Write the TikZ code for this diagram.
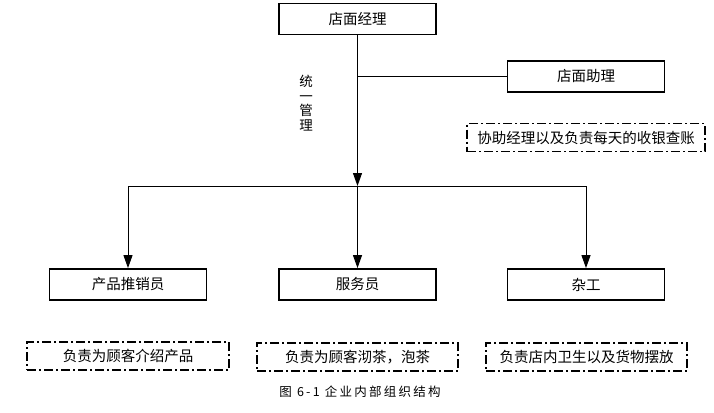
\documentclass[tikz,border=0pt]{standalone}
\usepackage{fontspec}
\setmainfont{Noto Sans CJK SC}
\usetikzlibrary{arrows.meta}
\tikzset{
  solidbox/.style={draw=black, line width=1.8pt, minimum width=157pt, minimum height=31pt, inner sep=0pt, font=\fontsize{14.5}{16}\selectfont},
  notebox/.style={draw=black, line width=1.1pt, dash pattern=on 9pt off 3pt on 2pt off 3pt, minimum height=28pt, inner sep=0pt, font=\fontsize{14.5}{16}\selectfont},
  link/.style={draw=black, line width=1pt},
  arr/.style={link, -{Triangle[length=13pt,width=9pt]}}
}
\begin{document}
\begin{tikzpicture}[x=1pt,y=-1pt]
\useasboundingbox (0,0) rectangle (714,412);
\node[solidbox] (mgr) at (357.5,19) {店面经理};
\node[solidbox] (asst) at (586,76.5) {店面助理};
\node[notebox, minimum width=238pt] (asstnote) at (586,137.5) {协助经理以及负责每天的收银查账};
\node[font=\fontsize{13.5}{14.5}\selectfont, align=center, inner sep=0pt] (unify) at (306,103) {统\\一\\管\\理};
\node[solidbox] (sales) at (128,284.5) {产品推销员};
\node[solidbox] (waiter) at (357.5,284.5) {服务员};
\node[solidbox] (misc) at (586,284.5) {杂工};
\node[notebox, minimum width=202pt] (salesnote) at (128,356) {负责为顾客介绍产品};
\node[notebox, minimum width=201pt] (waiternote) at (357.5,357) {负责为顾客沏茶，泡茶};
\node[notebox, minimum width=201pt] (miscnote) at (586.5,357) {负责店内卫生以及货物摆放};
\node[font=\fontsize{12.5}{14}\selectfont, inner sep=0pt] (caption) at (360,392) {\addfontfeature{LetterSpace=18}图 6-1 企业内部组织结构};
\coordinate (junc) at (357.5,186);
\coordinate (side) at (357.5,76.5);
\draw[arr] (mgr.south) -- (junc);
\draw[link] (side) -- (asst.west);
\draw[arr] (junc) -| (sales.north);
\draw[arr] (junc) -- (waiter.north);
\draw[arr] (junc) -| (misc.north);
\end{tikzpicture}
\end{document}
